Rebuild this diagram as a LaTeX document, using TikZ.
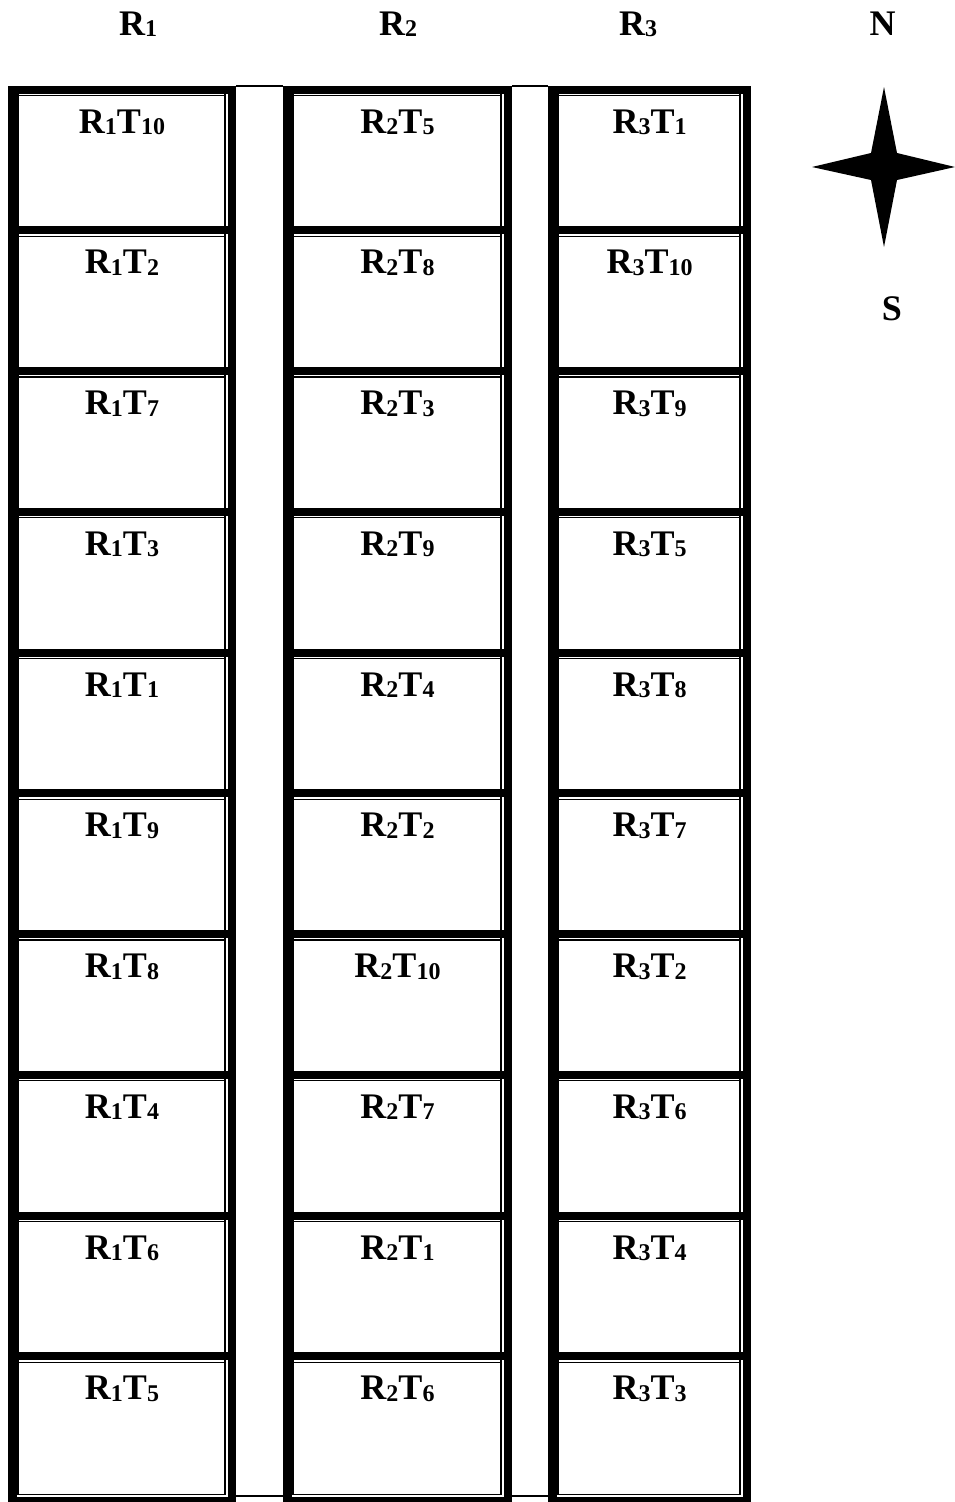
\documentclass[tikz,border=0pt]{standalone}
\usepackage{fontspec}
\setmainfont{Liberation Serif}
\newcommand{\mysubd}[1]{\raisebox{-1.5pt}{\fontsize{24}{24}\selectfont #1}}
\newcommand{\plotlab}[2]{R\mysubd{#1}T\mysubd{#2}}
\begin{document}
\begin{tikzpicture}[x=1pt,y=-1pt,
  lab/.style={font=\fontsize{36}{40}\selectfont\bfseries, anchor=base, inner sep=0pt},
  thinline/.style={line width=1.4pt},
  gapline/.style={line width=2pt}]
\useasboundingbox (0,0) rectangle (955,1502);
% column tables
\foreach \L/\R/\c/\list in {8/236/1/{10,2,7,3,1,9,8,4,6,5}, 283/512/2/{5,8,3,9,4,2,10,7,1,6}, 548/751/3/{1,10,9,5,8,7,2,6,4,3}}{
  \fill (\L,85.5) rectangle (\L+8.5,1502);
  \fill (\R-8.5,85.5) rectangle (\R,1502);
  \draw[thinline] (\L+10,94) -- (\L+10,1495);
  \draw[thinline] (\R-11,94) -- (\R-11,1495);
  \foreach \t [count=\k from 0] in \list {
    \pgfmathsetmacro{\yk}{85.5+140.75*\k}
    \fill (\L,\yk) rectangle (\R,\yk+8);
    \draw[thinline] (\L+10,\yk+10) -- (\R-11,\yk+10);
    \node[lab] (c\c-\k) at ({(\L+\R)/2},\yk+47.5) {\plotlab{\c}{\t}};
  }
  \draw[thinline] (\L+10,1494.5) -- (\R-11,1494.5);
  \fill (\L,1497) rectangle (\R,1502);
}
% alleys between columns
\draw[gapline] (236,86) -- (283,86);
\draw[gapline] (236,1495.5) -- (283,1495.5);
\draw[gapline] (512,86) -- (548,86);
\draw[gapline] (512,1495.5) -- (548,1495.5);
% headers
\node[lab] (h1) at (138,35) {R\mysubd{1}};
\node[lab] (h2) at (398,35) {R\mysubd{2}};
\node[lab] (h3) at (638,35) {R\mysubd{3}};
\node[lab] (hn) at (882.5,35) {N};
\node[lab] (hs) at (892,320) {S};
% compass star
\fill (884,87) -- (897,153) -- (955,167) -- (897,180) -- (884,247) -- (871,180) -- (812,167) -- (871,153) -- cycle;
\end{tikzpicture}
\end{document}
